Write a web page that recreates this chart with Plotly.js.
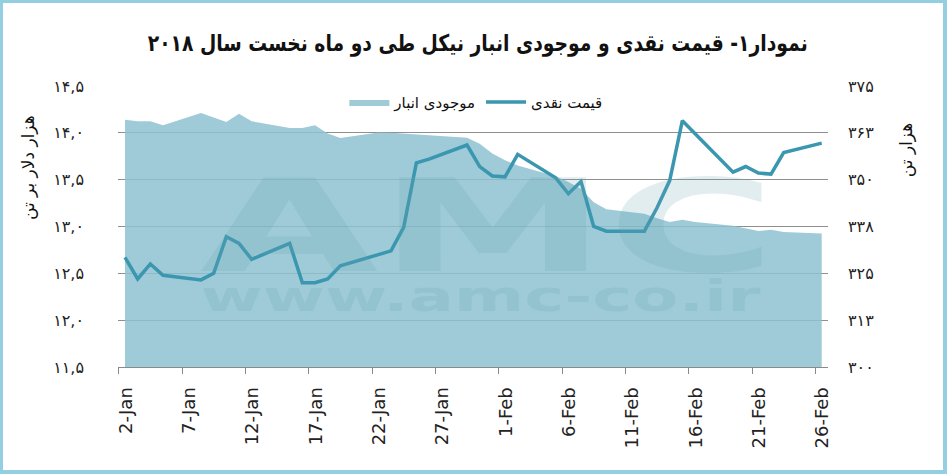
<!DOCTYPE html>
<html>
<head>
<meta charset="utf-8">
<script src="https://cdn.plot.ly/plotly-3.0.1.min.js"></script>
<style>
  html, body { margin: 0; padding: 0; background: #fff; }
  #chart {
    width: 940px; height: 467px;
    border-style: solid; border-color: #93CFE0;
    border-width: 3px 4px 4px 3px;
  }
</style>
</head>
<body>
<div id="chart"></div>
<script>
// trading days, Jan-Feb 2018
var dates = [
  '2018-01-02', '2018-01-03', '2018-01-04', '2018-01-05',
  '2018-01-08', '2018-01-09', '2018-01-10', '2018-01-11', '2018-01-12',
  '2018-01-15', '2018-01-16', '2018-01-17', '2018-01-18', '2018-01-19',
  '2018-01-22', '2018-01-23', '2018-01-24', '2018-01-25', '2018-01-26',
  '2018-01-29', '2018-01-30', '2018-01-31', '2018-02-01', '2018-02-02',
  '2018-02-05', '2018-02-06', '2018-02-07', '2018-02-08', '2018-02-09',
  '2018-02-12', '2018-02-13', '2018-02-14', '2018-02-15', '2018-02-16',
  '2018-02-19', '2018-02-20', '2018-02-21', '2018-02-22', '2018-02-23',
  '2018-02-26'
];

// spot price, thousand $ per tonne (left axis)
var spotPrice = [
  12.67, 12.44, 12.60, 12.48,
  12.43, 12.50, 12.89, 12.82, 12.65,
  12.82, 12.40, 12.40, 12.44, 12.58,
  12.70, 12.74, 12.99, 13.68, 13.72,
  13.87, 13.64, 13.54, 13.53, 13.77,
  13.52, 13.35, 13.48, 13.00, 12.95,
  12.95, 13.20, 13.49, 14.13, 13.99,
  13.58, 13.64, 13.57, 13.56, 13.79,
  13.89
];

// warehouse stocks, thousand tonnes (right axis)
var inventory = [
  366.0, 365.6, 365.6, 364.5,
  367.8, 366.6, 365.4, 367.6, 365.6,
  363.8, 363.8, 364.5, 362.3, 361.1,
  362.6, 362.5, 362.3, 362.0, 361.8,
  361.2, 359.6, 357.0, 355.2, 353.8,
  350.9, 349.4, 347.6, 344.0, 342.1,
  340.9, 339.7, 338.7, 339.3, 338.7,
  337.7, 337.1, 336.3, 336.6, 336.0,
  335.6
];

var priceTickVals = [11.5, 12, 12.5, 13, 13.5, 14, 14.5];
var priceTickText = ['۱۱,۵', '۱۲,۰', '۱۲,۵', '۱۳,۰', '۱۳,۵', '۱۴,۰', '۱۴,۵'];
var stockTickVals = [300, 312.5, 325, 337.5, 350, 362.5, 375];
var stockTickText = ['۳۰۰', '۳۱۳', '۳۲۵', '۳۳۸', '۳۵۰', '۳۶۳', '۳۷۵'];
var xTickVals = [
  '2018-01-01 12:00', '2018-01-06 12:00', '2018-01-11 12:00', '2018-01-16 12:00',
  '2018-01-21 12:00', '2018-01-26 12:00', '2018-01-31 12:00', '2018-02-05 12:00',
  '2018-02-10 12:00', '2018-02-15 12:00', '2018-02-20 12:00', '2018-02-25 12:00'
];
var xTickText = ['2-Jan', '7-Jan', '12-Jan', '17-Jan', '22-Jan', '27-Jan',
                 '1-Feb', '6-Feb', '11-Feb', '16-Feb', '21-Feb', '26-Feb'];

var chartTitle = 'نمودار۱- قیمت نقدی و موجودی انبار نیکل طی دو ماه نخست سال ۲۰۱۸';
var stockName = 'موجودی انبار';
var priceName = 'قیمت نقدی';
var priceAxisTitle = 'هزار دلار بر تن';
var stockAxisTitle = 'هزار تن';

var areaColor = 'rgba(141,194,208,0.85)';
var lineColor = '#3A97AF';
var markColor = 'rgba(110,165,182,0.2)';

var stockTrace = {
  x: dates,
  y: inventory,
  name: stockName,
  type: 'scatter',
  mode: 'lines',
  fill: 'tozeroy',
  fillcolor: areaColor,
  line: { width: 0, color: areaColor },
  yaxis: 'y',
  hoverinfo: 'skip'
};

var priceTrace = {
  x: dates,
  y: spotPrice,
  name: priceName,
  type: 'scatter',
  mode: 'lines',
  line: { color: lineColor, width: 3.5 },
  yaxis: 'y2',
  hoverinfo: 'skip'
};

var layout = {
  width: 940,
  height: 467,
  margin: { l: 115, r: 115, t: 83, b: 103 },
  paper_bgcolor: '#fff',
  plot_bgcolor: '#fff',
  font: { family: 'DejaVu Sans', color: '#222' },
  title: {
    text: '<b>' + chartTitle + '</b>',
    x: 0.505, xref: 'container', xanchor: 'center',
    y: 0.914, yref: 'container', yanchor: 'middle',
    font: { size: 23, color: '#111' }
  },
  showlegend: true,
  legend: {
    orientation: 'h',
    x: 0.504, xanchor: 'center',
    y: 0.942, yanchor: 'middle',
    bgcolor: 'rgba(0,0,0,0)',
    itemwidth: 40,
    font: { size: 15, color: '#111' }
  },
  xaxis: {
    type: 'date',
    range: ['2018-01-01 10:44', '2018-02-26 11:56'],
    tickmode: 'array',
    tickvals: xTickVals,
    ticktext: xTickText,
    tickangle: -90,
    ticks: 'outside',
    ticklen: 6,
    tickcolor: '#8a8a8a',
    ticklabelshift: 7,
    ticklabelstandoff: 6,
    showline: true,
    linecolor: '#8a8a8a',
    showgrid: false,
    zeroline: false,
    tickfont: { size: 18, color: '#222' }
  },
  yaxis: {
    range: [300, 375],
    side: 'right',
    tickmode: 'array',
    tickvals: stockTickVals,
    ticktext: stockTickText,
    ticks: '',
    ticklabelstandoff: 19,
    showgrid: true,
    gridcolor: '#8f8f8f',
    gridwidth: 1,
    zeroline: false,
    showline: false,
    tickfont: { size: 16, color: '#222' }
  },
  yaxis2: {
    range: [11.5, 14.5],
    overlaying: 'y',
    side: 'left',
    tickmode: 'array',
    tickvals: priceTickVals,
    ticktext: priceTickText,
    ticks: '',
    ticklabelstandoff: 33,
    showgrid: false,
    zeroline: false,
    showline: false,
    tickfont: { size: 16, color: '#222' }
  },
  annotations: [
    {
      text: priceAxisTitle, textangle: -90, showarrow: false,
      xref: 'paper', yref: 'paper', x: -0.127, y: 0.711,
      xanchor: 'center', yanchor: 'middle',
      font: { size: 17, color: '#111' }
    },
    {
      text: stockAxisTitle, textangle: -90, showarrow: false,
      xref: 'paper', yref: 'paper', x: 1.111, y: 0.771,
      xanchor: 'center', yanchor: 'middle',
      font: { size: 17, color: '#111' }
    },
    {
      text: '<b>AMC</b>', showarrow: false,
      xref: 'paper', yref: 'paper', x: 0.521, y: 0.50,
      xanchor: 'center', yanchor: 'middle',
      font: { size: 128, color: markColor, family: 'DejaVu Sans' }
    },
    {
      text: '<b>www.amc-co.ir</b>', showarrow: false,
      xref: 'paper', yref: 'paper', x: 0.51, y: 0.25,
      xanchor: 'center', yanchor: 'middle',
      font: { size: 42, color: markColor, family: 'DejaVu Sans' }
    }
  ]
};

Plotly.newPlot('chart', [stockTrace, priceTrace], layout, { staticPlot: true }).then(function () {
  // stretch the watermark wide and squeeze the title like the condensed original
  var texts = document.querySelectorAll('.annotation-text');
  texts.forEach(function (t) {
    if (t.textContent === 'AMC') {
      t.setAttribute('textLength', 576);
      t.setAttribute('lengthAdjust', 'spacingAndGlyphs');
    } else if (t.textContent === 'www.amc-co.ir') {
      t.setAttribute('textLength', 560);
      t.setAttribute('lengthAdjust', 'spacingAndGlyphs');
    }
  });
  var title = document.querySelector('.gtitle');
  if (title) {
    title.setAttribute('textLength', 660);
    title.setAttribute('lengthAdjust', 'spacingAndGlyphs');
  }
});
</script>
</body>
</html>
